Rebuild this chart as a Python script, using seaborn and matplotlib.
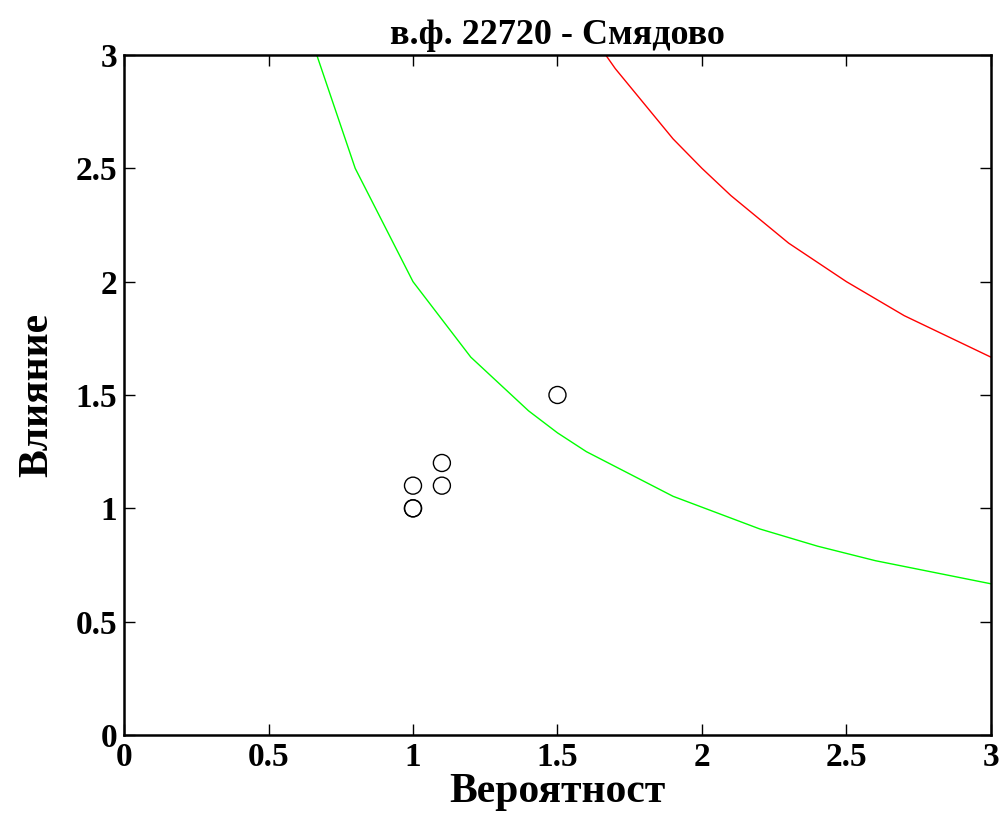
import numpy as np
import pandas as pd
import seaborn as sns
import matplotlib.pyplot as plt

# green boundary (low risk)
green_x = [0.667, 0.8, 1.0, 1.2, 1.4, 1.5, 1.6, 1.9, 2.2, 2.4, 2.6, 3.0]
green_y = [3.0, 2.5, 2.0, 1.667, 1.43, 1.333, 1.25, 1.053, 0.909, 0.833, 0.769, 0.667]

# red boundary (high risk)
red_x = [1.667, 1.7, 1.9, 2.0, 2.1, 2.3, 2.5, 2.7, 3.0]
red_y = [3.0, 2.94, 2.63, 2.5, 2.38, 2.17, 2.0, 1.85, 1.667]

# observed points
pts_x = [1.0, 1.0, 1.0, 1.1, 1.1, 1.5]
pts_y = [1.0, 1.0, 1.1, 1.1, 1.2, 1.5]

tick_vals = [0, 0.5, 1, 1.5, 2, 2.5, 3]
tick_labels = ["0", "0.5", "1", "1.5", "2", "2.5", "3"]

sns.set_style("ticks")
plt.rcParams['font.family'] = ['Liberation Serif', 'DejaVu Serif']
plt.rcParams['font.weight'] = 'bold'
plt.rcParams['text.color'] = 'black'
plt.rcParams['axes.labelcolor'] = 'black'
plt.rcParams['xtick.color'] = 'black'
plt.rcParams['ytick.color'] = 'black'

fig = plt.figure(figsize=(10.06, 8.15), dpi=100)
ax = fig.add_axes([0.1233, 0.0982, 0.8617, 0.8343])

sns.lineplot(x=green_x, y=green_y, color="#00ff00", linewidth=1, ax=ax)
sns.lineplot(x=red_x, y=red_y, color="#ff0000", linewidth=1, ax=ax)
sns.scatterplot(x=pts_x, y=pts_y, marker="o", s=150, facecolor="none",
                edgecolor="black", linewidth=1, ax=ax, zorder=5)

ax.set_xlim(0, 3)
ax.set_ylim(0, 3)
ax.set_xticks(tick_vals)
ax.set_xticklabels(tick_labels)
ax.set_yticks(tick_vals)
ax.set_yticklabels(tick_labels)
ax.tick_params(direction="in", top=True, right=True, length=8, width=1,
               labelsize=24, pad=5)
for lab in ax.get_xticklabels() + ax.get_yticklabels():
    lab.set_fontweight("bold")
for sp in ax.spines.values():
    sp.set_linewidth(1.8)
    sp.set_color("black")

ax.set_title("в.ф. 22720 - Смядово", fontsize=26, fontweight="bold", pad=8)
ax.set_xlabel("Вероятност", fontsize=30, fontweight="bold", labelpad=0)
ax.set_ylabel("Влияние", fontsize=30, fontweight="bold", labelpad=14)

fig.savefig("out.png", dpi=100)
